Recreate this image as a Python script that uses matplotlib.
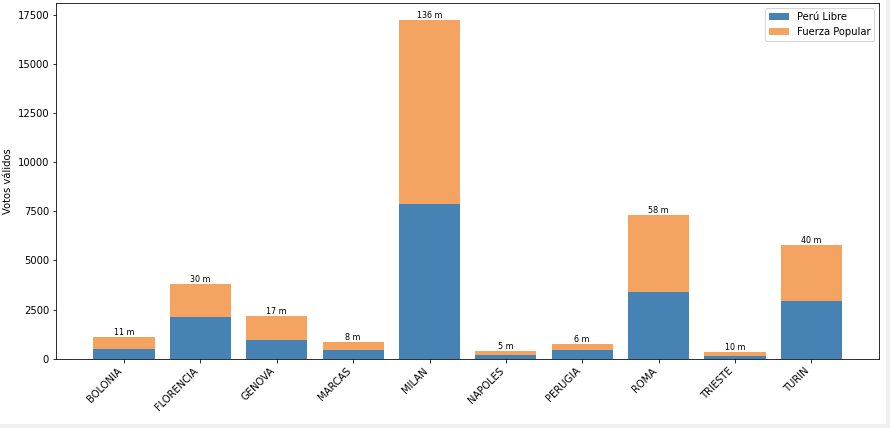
import matplotlib
matplotlib.use('Agg')
import matplotlib.pyplot as plt
from matplotlib.patches import Rectangle
import numpy as np

# votos por ciudad
ciudades = ['BOLONIA', 'FLORENCIA', 'GENOVA', 'MARCAS', 'MILAN',
            'NAPOLES', 'PERUGIA', 'ROMA', 'TRIESTE', 'TURIN']
peru_libre = [480, 2110, 940, 440, 7900, 170, 440, 3420, 120, 2960]
fuerza_popular = [640, 1700, 1220, 410, 9350, 220, 310, 3910, 210, 2840]
mesas = ['11 m', '30 m', '17 m', '8 m', '136 m', '5 m', '6 m', '58 m', '10 m', '40 m']

fig = plt.figure(figsize=(890/72, 428/72), dpi=72)
ax = fig.add_axes([0.063, 0.162, 0.925, 0.831])

x = np.arange(len(ciudades))
ax.bar(x, peru_libre, width=0.8, color='steelblue', label='Perú Libre')
ax.bar(x, fuerza_popular, width=0.8, bottom=peru_libre, color='sandybrown', label='Fuerza Popular')

totales = np.array(peru_libre) + np.array(fuerza_popular)
for i in range(len(ciudades)):
    ax.text(x[i], totales[i], mesas[i], ha='center', va='bottom', fontsize=8)

ax.set_xticks(x)
ax.set_xticklabels(ciudades, rotation=45, ha='right')
ax.set_ylabel('Votos válidos')
ax.legend(loc='upper right')

# marco gris claro de la captura
fig.add_artist(Rectangle((886/890, 0), 4/890, 1, transform=fig.transFigure,
                         color='#f0f0f0', zorder=0))
fig.add_artist(Rectangle((0, 0), 1, 4/428, transform=fig.transFigure,
                         color='#f0f0f0', zorder=0))

fig.savefig('out.png', dpi=72)
